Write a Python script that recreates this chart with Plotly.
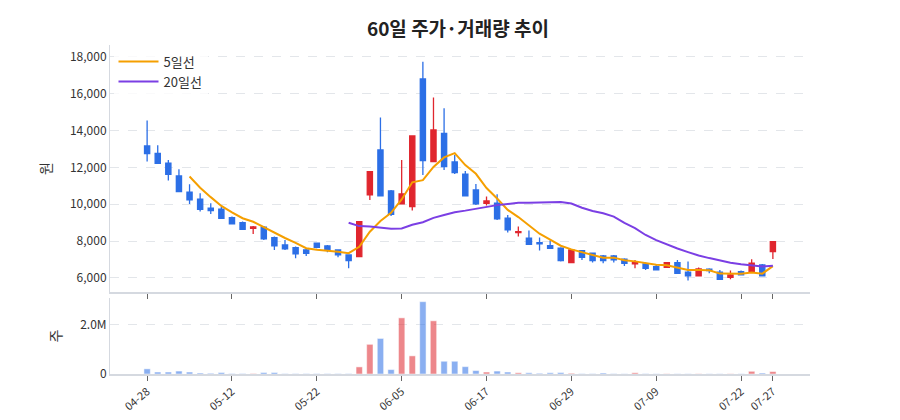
import plotly.graph_objects as go
from plotly.subplots import make_subplots
import pandas as pd

dates = ["04-28","05-01","05-02","05-03","05-04","05-08","05-09","05-10","05-12","05-15",
         "05-16","05-17","05-18","05-19","05-20","05-21","05-22","05-23","05-24","05-25",
         "05-26","05-29","05-30","06-01","06-05","06-07","06-08","06-09","06-10","06-12",
         "06-13","06-14","06-17","06-19","06-20","06-21","06-22","06-23","06-26","06-27",
         "06-29","06-30","07-01","07-02","07-03","07-04","07-05","07-06","07-09","07-10",
         "07-11","07-12","07-13","07-16","07-17","07-19","07-22","07-23","07-26","07-27"]
opens = [13167,12769,12226,11538,10651,10271,9782,9728,9276,9004,
         8697,8751,8190,7792,7647,7520,7882,7737,7520,7248,
         7158,10506,12950,10724,10018,9873,16805,12317,13855,12298,
         11629,10778,10054,10054,9240,8461,8154,7918,7755,7610,
         6832,7484,7339,7194,7194,7013,6760,6760,6615,6579,
         6832,6307,6108,6470,6307,6036,6343,6343,6705,7430]
highs = [14543,13203,12407,11900,11086,10597,10054,9873,9330,9059,
         8823,8823,8244,8063,7701,7610,7918,7792,7556,7285,
         9059,11773,14706,10778,12407,13710,17746,15792,15212,12678,
         11800,11104,10416,10543,9421,8787,8570,8190,8027,7665,
         7520,7520,7375,7248,7248,7067,6977,6832,6705,6868,
         6977,6887,6560,6525,6434,6398,6398,7013,6760,7972]
lows = [12317,12190,11285,10651,10018,9601,9475,9204,8896,8606,
        8389,8063,7520,7520,7067,7194,7610,7393,7122,6525,
        7158,10235,10416,9366,10018,9656,11593,12317,11864,11647,
        10430,9963,9927,9149,8461,8244,7792,7484,7574,6887,
        6832,6977,6832,6796,6832,6651,6525,6434,6398,6579,
        6217,5855,6108,6253,5891,5927,6127,6343,6072,7031]
closes = [12751,12226,11629,10687,10235,9728,9656,9240,8932,8643,
          8769,8117,7737,7574,7303,7339,7665,7520,7248,6941,
          9059,11773,10452,9456,10561,13710,12371,14036,12046,11719,
          10452,10018,10181,9204,8606,8516,7828,7846,7610,6941,
          7520,7122,6941,6941,6977,6796,6832,6525,6434,6832,
          6253,6108,6488,6398,5927,6163,6163,6796,6108,7972]
volumes = [210000,80000,80000,120000,80000,40000,30000,60000,20000,20000,
           20000,60000,60000,15000,15000,15000,15000,15000,15000,15000,
           290000,1210000,1450000,180000,2290000,740000,2950000,2170000,520000,520000,
           300000,140000,80000,120000,80000,50000,50000,30000,50000,60000,
           30000,15000,15000,40000,15000,10000,50000,15000,10000,10000,
           10000,10000,10000,10000,10000,10000,10000,110000,40000,100000]
tick_labels = ["04-28","05-12","05-22","06-05","06-17","06-29","07-09","07-22","07-27"]

RED = "#e0262e"; BLUE = "#2c6fe6"
s = pd.Series(closes)
ma5 = s.rolling(5).mean()
ma20 = s.rolling(20).mean()
up = [c >= o for o, c in zip(opens, closes)]

fig = make_subplots(rows=2, cols=1, shared_xaxes=True)
fig.add_trace(go.Candlestick(x=dates, open=opens, high=highs, low=lows, close=closes,
    increasing=dict(line=dict(color=RED, width=1.3), fillcolor=RED),
    decreasing=dict(line=dict(color=BLUE, width=1.3), fillcolor=BLUE),
    whiskerwidth=0, showlegend=False), row=1, col=1)
fig.add_trace(go.Scatter(x=dates, y=ma5, mode="lines", name="5일선",
    line=dict(color="#f59f00", width=2)), row=1, col=1)
fig.add_trace(go.Scatter(x=dates, y=ma20, mode="lines", name="20일선",
    line=dict(color="#7b3fe4", width=2)), row=1, col=1)
fig.add_trace(go.Bar(x=dates, y=volumes, marker=dict(color=[RED if u else BLUE for u in up], opacity=0.55),
    showlegend=False, width=0.6), row=2, col=1)

font = "Noto Sans CJK KR"
fig.update_layout(
    width=900, height=420, template="plotly_white", plot_bgcolor="white",
    font=dict(family=font, size=12, color="#333"),
    title=dict(text="<b>60일 주가·거래량 추이</b>", x=0.5, xanchor="center", y=0.965, font=dict(size=19, color="#222")),
    margin=dict(l=102, r=98, t=37, b=54, autoexpand=False),
    legend=dict(x=0.005, y=0.995, xanchor="left", yanchor="top", bgcolor="rgba(255,255,255,0.8)",
                font=dict(size=13), itemwidth=40),
    xaxis_rangeslider_visible=False,
    yaxis=dict(domain=[0.249, 1]), yaxis2=dict(domain=[0, 0.231]),
)
fig.update_xaxes(type="category", showgrid=False, showline=True, linecolor="#d5d9e0", linewidth=2,
                 ticks="outside", tickcolor="#666", ticklen=5, tickvals=tick_labels,
                 range=[-3.5, 62.5])
fig.update_xaxes(showticklabels=False, row=1, col=1)
fig.update_xaxes(tickangle=-40, tickfont=dict(size=11), row=2, col=1)
fig.update_yaxes(showgrid=True, gridcolor="#e3e6ea", griddash="dash", showline=True, linecolor="#d5d9e0",
                 zeroline=False, tickfont=dict(size=12))
fig.update_yaxes(title_text="원", range=[5230, 18650], tickvals=[6000,8000,10000,12000,14000,16000,18000],
                 tickformat=",", row=1, col=1)
fig.update_yaxes(title_text="주", range=[0, 3100000], tickvals=[0, 2000000], ticktext=["0", "2.0M"], row=2, col=1)
fig.write_html("out.html")
